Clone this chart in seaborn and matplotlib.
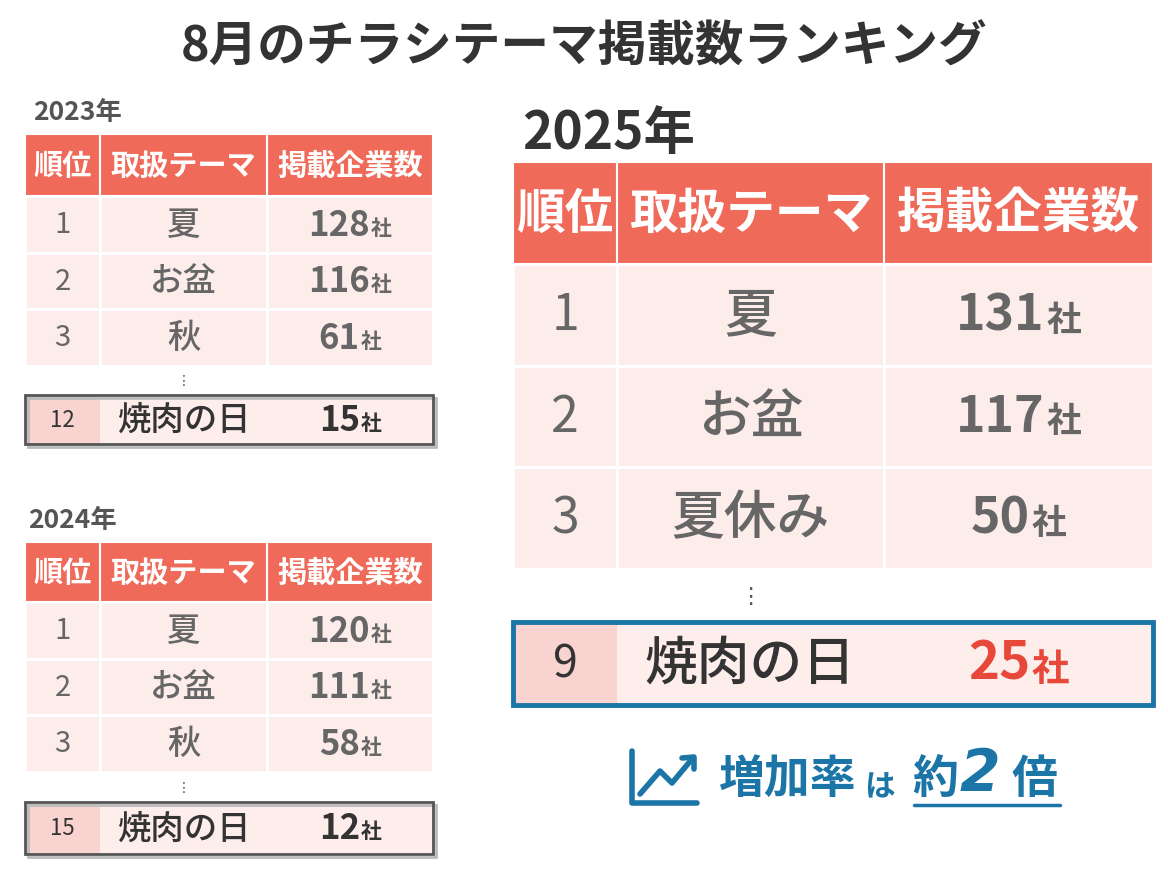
import matplotlib
matplotlib.use("Agg")
import matplotlib.pyplot as plt
import seaborn as sns
from matplotlib.patches import Rectangle

sns.set_theme(style="white")
plt.rcParams['font.family'] = ['Noto Sans CJK JP', 'DejaVu Sans']

title = "8月のチラシテーマ掲載数ランキング"
headers = ["順位", "取扱テーマ", "掲載企業数"]
y2023_rank = ["1", "2", "3"]; y2023_theme = ["夏", "お盆", "秋"]; y2023_count = [128, 116, 61]
y2023_hl = ("12", "焼肉の日", 15)
y2024_rank = ["1", "2", "3"]; y2024_theme = ["夏", "お盆", "秋"]; y2024_count = [120, 111, 58]
y2024_hl = ("15", "焼肉の日", 12)
y2025_rank = ["1", "2", "3"]; y2025_theme = ["夏", "お盆", "夏休み"]; y2025_count = [131, 117, 50]
y2025_hl = ("9", "焼肉の日", 25)

HEAD = "#F06A5A"; ROW = "#FCECEA"; GRAY = "#666666"; BLUE = "#1B75A6"; RED = "#E8483A"

fig = plt.figure(figsize=(11.68, 8.78), dpi=100)
ax = fig.add_axes([0, 0, 1, 1])
ax.set_xlim(0, 1168); ax.set_ylim(878, 0); ax.axis("off")

ax.text(584, 47, title, ha="center", va="center", fontsize=35, fontweight="bold", color="#333333")

def num(xc, y, n, fs, fs2, col, w=0.6):
    s = str(n)
    wnum = len(s) * fs * w * 100 / 72
    wsha = fs2 * 100 / 72
    x0 = xc - (wnum + wsha) / 2
    ax.text(x0, y, s, ha="left", va="center", fontsize=fs, fontweight="bold", color=col)
    ax.text(x0 + wnum, y + fs * 0.12, "社", ha="left", va="center", fontsize=fs2, fontweight="bold", color=col)

def table(year, ys, cols, head_h, row_h, ranks, themes, counts, hl, hy, hh, big, ylabel):
    x0, x1, x2, x3 = cols
    ax.text(*ylabel, year, ha="left", va="center", fontsize=big['year'], fontweight="bold", color="#555555" if not big['big'] else "#333333")
    for a, b, t in [(x0, x1, headers[0]), (x1, x2, headers[1]), (x2, x3, headers[2])]:
        ax.add_patch(Rectangle((a, ys), b - a, head_h, facecolor=HEAD, edgecolor="white", lw=1.5))
        ax.text((a + b) / 2, ys + head_h / 2, t, ha="center", va="center", fontsize=big['head'], color="white", fontweight="bold")
    for i, (r, t, c) in enumerate(zip(ranks, themes, counts)):
        y = ys + head_h + i * row_h
        for a, b in [(x0, x1), (x1, x2), (x2, x3)]:
            ax.add_patch(Rectangle((a, y), b - a, row_h, facecolor=ROW, edgecolor="white", lw=2))
        yc = y + row_h / 2
        ax.text((x0 + x1) / 2, yc, r, ha="center", va="center", fontsize=big['rank'], color=GRAY)
        ax.text((x1 + x2) / 2, yc, t, ha="center", va="center", fontsize=big['theme'], color=GRAY, fontweight="medium")
        num((x2 + x3) / 2, yc, c, big['num'], big['sha'], GRAY)
    yend = ys + head_h + 3 * row_h
    ax.text((x1 + x2) / 2, (yend + hy) / 2, "⋮", ha="center", va="center", fontsize=big['dots'], color="#555555", family="DejaVu Sans")
    ax.add_patch(Rectangle((x0, hy), x1 - x0, hh, facecolor="#F9D3CF", edgecolor="none"))
    ax.add_patch(Rectangle((x1, hy), x3 - x1, hh, facecolor="#FDEDEB", edgecolor="none"))
    if big['big']:
        ax.add_patch(Rectangle((x0, hy), x3 - x0, hh, facecolor="none", edgecolor=BLUE, lw=3.5))
        col = RED
    else:
        ax.add_patch(Rectangle((x0 + 3, hy + 3), x3 - x0, hh, facecolor="none", edgecolor="#BBBBBB", lw=2))
        ax.add_patch(Rectangle((x0, hy), x3 - x0, hh, facecolor="none", edgecolor="#555555", lw=2))
        col = "#333333"
    yc = hy + hh / 2
    ax.text((x0 + x1) / 2, yc, hl[0], ha="center", va="center", fontsize=big['hrank'], color="#333333")
    ax.text((x1 + x2) / 2, yc, hl[1], ha="center", va="center", fontsize=big['theme'], color="#333333", fontweight="medium")
    num((x2 + x3) / 2, yc, hl[2], big['num'] + (2 if big['big'] else 0), big['sha'] + (2 if big['big'] else 0), col)

small = dict(year=19, head=21, rank=21, theme=24, num=25, sha=15, dots=10, hrank=16, big=False)
table("2023年", 135, (25, 100, 267, 433), 62, 56.5, y2023_rank, y2023_theme, y2023_count, y2023_hl, 396, 49, small, (33, 113))
table("2024年", 543, (25, 100, 267, 433), 60, 56.5, y2024_rank, y2024_theme, y2024_count, y2024_hl, 803, 52, small, (28, 521))
large = dict(year=37, head=35, rank=36, theme=38, num=36, sha=25, dots=16, hrank=32, big=True)
table("2025年", 163, (513, 617, 884, 1153), 102, 101.7, y2025_rank, y2025_theme, y2025_count, y2025_hl, 623, 83, large, (522, 133))

ax.plot([632, 632, 697], [752, 804, 804], color=BLUE, lw=4, solid_capstyle="round")
ax.plot([640, 660, 672, 692], [795, 772, 784, 760], color=BLUE, lw=4, solid_joinstyle="round")
ax.plot([682, 694, 694], [759, 758, 770], color=BLUE, lw=4)
ax.text(718, 780, "増加率", ha="left", va="center", fontsize=33, fontweight="bold", color=BLUE)
ax.text(864, 787, "は", ha="left", va="center", fontsize=22, fontweight="bold", color=BLUE)
ax.text(912, 780, "約", ha="left", va="center", fontsize=33, fontweight="bold", color=BLUE)
ax.text(960, 775, "2", ha="left", va="center", fontsize=42, fontweight="bold", fontstyle="italic", color=BLUE, family="DejaVu Sans")
ax.text(1012, 780, "倍", ha="left", va="center", fontsize=33, fontweight="bold", color=BLUE)
ax.plot([914, 1060], [806, 806], color=BLUE, lw=2.5)

fig.savefig("out.png", dpi=100)
